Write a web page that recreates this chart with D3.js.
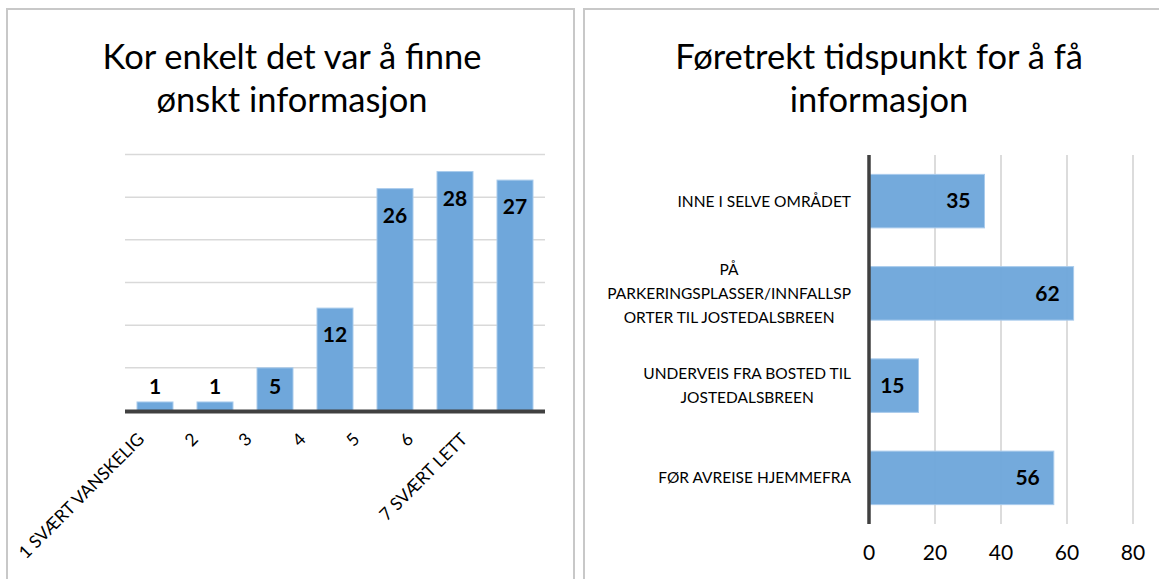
<!DOCTYPE html>
<html>
<head>
<meta charset="utf-8">
<script src="https://cdn.jsdelivr.net/npm/d3@7"></script>
<style>
  body { margin: 0; background: #ffffff; }
  svg { display: block; font-family: Lato, "Open Sans", sans-serif; }
</style>
</head>
<body>
<div id="chart"></div>
<script>
// left chart: how easy it was to find the wanted information
const easeCategories = ['1 SVÆRT VANSKELIG', '2', '3', '4', '5', '6', '7 SVÆRT LETT'];
const easeValues = [1, 1, 5, 12, 26, 28, 27];
const easeTicks = [0, 5, 10, 15, 20, 25, 30];

// right chart: preferred time to get information
const timeCategories = [
    ['INNE I SELVE OMRÅDET'],
    ['PÅ', 'PARKERINGSPLASSER/INNFALLSP', 'ORTER TIL JOSTEDALSBREEN'],
    ['UNDERVEIS FRA BOSTED TIL', 'JOSTEDALSBREEN'],
    ['FØR AVREISE HJEMMEFRA']
];
const timeValues = [35, 62, 15, 56];
const timeTicks = [0, 20, 40, 60, 80];

const W = 1159, H = 579;
const barFill = '#6fa7db';
const barStroke = '#a9cbec';

const svg = d3.select('#chart')
    .append('svg')
    .attr('width', W)
    .attr('height', H);

// panel frames
svg.append('path')
    .attr('d', `M7,${H + 5} V9 H574 V${H + 5}`)
    .attr('fill', 'none')
    .attr('stroke', '#c8c8c8')
    .attr('stroke-width', 2);
svg.append('path')
    .attr('d', `M584,${H + 5} V9 H${W + 5}`)
    .attr('fill', 'none')
    .attr('stroke', '#c8c8c8')
    .attr('stroke-width', 2);

// titles
function title(cx, lines){
    svg.append('text')
        .attr('text-anchor', 'middle')
        .attr('font-size', 34.5)
        .attr('fill', '#000')
        .selectAll('tspan')
        .data(lines)
        .enter()
        .append('tspan')
        .attr('x', cx)
        .attr('y', (_, i) => 69 + i * 43)
        .text(d => d);
}
title(292, ['Kor enkelt det var å finne', 'ønskt informasjon']);
title(879, ['Føretrekt tidspunkt for å få', 'informasjon']);

// ---------- left: vertical bars ----------
const L = {left: 125, right: 545, top: 154.5, bottom: 410.5};

const lx = d3.scaleBand()
    .domain(easeCategories)
    .range([L.left, L.right])
    .paddingInner(0.4)
    .paddingOuter(0.2);

const ly = d3.scaleLinear()
    .domain([0, 30])
    .range([L.bottom, L.top]);

// x labels sit a little compressed relative to the bars
const lLabel = d3.scalePoint()
    .domain(easeCategories)
    .range([141, 464]);

svg.append('g')
    .selectAll('line')
    .data(easeTicks.slice(1))
    .enter()
    .append('line')
    .attr('x1', L.left)
    .attr('x2', L.right)
    .attr('y1', d => ly(d))
    .attr('y2', d => ly(d))
    .attr('stroke', '#d9d9d9')
    .attr('stroke-width', 1.5);

svg.append('g')
    .selectAll('rect')
    .data(easeValues)
    .enter()
    .append('rect')
    .attr('x', (_, i) => lx(easeCategories[i]))
    .attr('width', lx.bandwidth())
    .attr('y', d => ly(d))
    .attr('height', d => ly(0) - ly(d))
    .attr('fill', barFill)
    .attr('stroke', barStroke)
    .attr('stroke-width', 1);

svg.append('line')
    .attr('x1', L.left)
    .attr('x2', L.right)
    .attr('y1', ly(0) + 1)
    .attr('y2', ly(0) + 1)
    .attr('stroke', '#404040')
    .attr('stroke-width', 4);

svg.append('g')
    .selectAll('text')
    .data(easeValues)
    .enter()
    .append('text')
    .attr('x', (_, i) => lx(easeCategories[i]) + lx.bandwidth() / 2)
    .attr('y', d => Math.min(ly(d) + 27, ly(0) - 24))
    .attr('dy', '0.35em')
    .attr('text-anchor', 'middle')
    .attr('font-size', 21)
    .attr('font-weight', 'bold')
    .attr('fill', '#000')
    .text(d => d);

svg.append('g')
    .selectAll('text')
    .data(easeCategories)
    .enter()
    .append('text')
    .attr('transform', d => `translate(${lLabel(d)},436) rotate(-45)`)
    .attr('dy', '0.35em')
    .attr('text-anchor', 'end')
    .attr('font-size', 17.5)
    .attr('fill', '#000')
    .text(d => d);

// ---------- right: horizontal bars ----------
const R = {left: 869, right: 1133, top: 155, bottom: 524};

const rx = d3.scaleLinear()
    .domain([0, 80])
    .range([R.left, R.right]);

const ry = d3.scaleBand()
    .domain(d3.range(timeValues.length))
    .range([R.top, R.bottom])
    .paddingInner(0.42)
    .paddingOuter(0.21);

svg.append('g')
    .selectAll('line')
    .data(timeTicks.slice(1))
    .enter()
    .append('line')
    .attr('x1', d => rx(d))
    .attr('x2', d => rx(d))
    .attr('y1', R.top)
    .attr('y2', R.bottom)
    .attr('stroke', '#d0d0d0')
    .attr('stroke-width', 1.5);

svg.append('g')
    .selectAll('rect')
    .data(timeValues)
    .enter()
    .append('rect')
    .attr('x', rx(0))
    .attr('y', (_, i) => ry(i))
    .attr('height', ry.bandwidth())
    .attr('width', d => rx(d) - rx(0))
    .attr('fill', barFill)
    .attr('fill-opacity', 0.97)
    .attr('stroke', barStroke)
    .attr('stroke-width', 1);

svg.append('line')
    .attr('x1', rx(0))
    .attr('x2', rx(0))
    .attr('y1', R.top)
    .attr('y2', R.bottom)
    .attr('stroke', '#404040')
    .attr('stroke-width', 3.5);

svg.append('g')
    .selectAll('text')
    .data(timeValues)
    .enter()
    .append('text')
    .attr('x', d => rx(d) - 14)
    .attr('y', (_, i) => ry(i) + ry.bandwidth() / 2)
    .attr('dy', '0.35em')
    .attr('text-anchor', 'end')
    .attr('font-size', 21)
    .attr('font-weight', 'bold')
    .attr('fill', '#000')
    .text(d => d);

// category labels: block right-aligned to the axis, lines centred within it
const catLines = 24;
const catRight = 851;
const catGroup = svg.append('g')
    .attr('font-size', 15.5)
    .attr('fill', '#000');

timeCategories.forEach((lines, i) => {
    const cy = ry(i) + ry.bandwidth() / 2;
    const t = catGroup.append('text')
        .attr('text-anchor', 'middle');
    t.selectAll('tspan')
        .data(lines)
        .enter()
        .append('tspan')
        .attr('y', (_, j) => cy + (j - (lines.length - 1) / 2) * catLines)
        .attr('dy', '0.35em')
        .text(d => d);
    let maxW = 0;
    t.selectAll('tspan').each(function(){
        maxW = Math.max(maxW, this.getComputedTextLength());
    });
    t.selectAll('tspan').attr('x', catRight - maxW / 2);
});

svg.append('g')
    .selectAll('text')
    .data(timeTicks)
    .enter()
    .append('text')
    .attr('x', d => rx(d))
    .attr('y', 553)
    .attr('dy', '0.35em')
    .attr('text-anchor', 'middle')
    .attr('font-size', 21)
    .attr('fill', '#000')
    .text(d => d);
</script>
</body>
</html>
